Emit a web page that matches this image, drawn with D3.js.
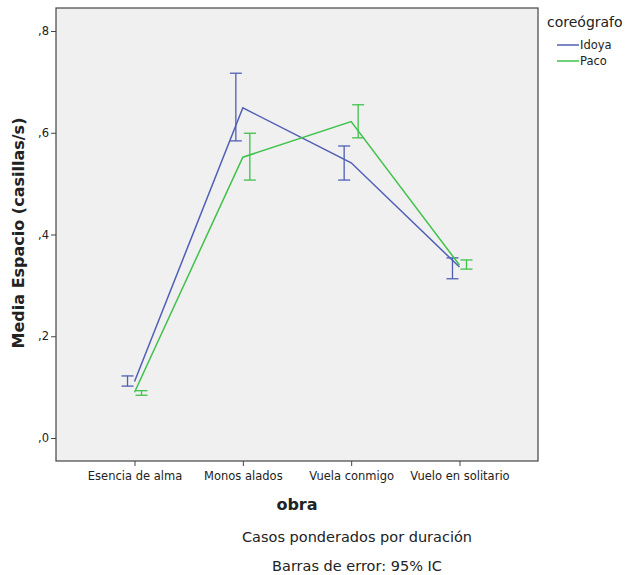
<!DOCTYPE html>
<html>
<head>
<meta charset="utf-8">
<script src="https://cdn.jsdelivr.net/npm/d3@7"></script>
<style>
  body { margin: 0; background: #fff; }
  text { font-family: "DejaVu Sans", sans-serif; fill: #222; }
</style>
</head>
<body>
<div id="chart"></div>
<script>
const obras = ['Esencia de alma', 'Monos alados', 'Vuela conmigo', 'Vuelo en solitario'];
const coreografos = ['Idoya', 'Paco'];
const idoyaMean = [0.111, 0.649, 0.541, 0.336];
const idoyaLow = [0.102, 0.584, 0.507, 0.313];
const idoyaHigh = [0.122, 0.717, 0.574, 0.354];
const pacoMean = [0.090, 0.552, 0.622, 0.340];
const pacoLow = [0.084, 0.507, 0.590, 0.332];
const pacoHigh = [0.093, 0.599, 0.655, 0.350];
const yTicks = [0, 0.2, 0.4, 0.6, 0.8];
const colors = { Idoya: '#4f5fb5', Paco: '#3fc24a' };

const width = 628, height = 575;
const plot = { left: 56, top: 8, right: 538, bottom: 461 };

const svg = d3.select('#chart').append('svg')
  .attr('width', width)
  .attr('height', height);

// plot background
svg.append('rect')
  .attr('x', plot.left).attr('y', plot.top)
  .attr('width', plot.right - plot.left).attr('height', plot.bottom - plot.top)
  .attr('fill', '#f0f0f0')
  .attr('stroke', '#444').attr('stroke-width', 1.2);

const x = d3.scalePoint()
  .domain(obras)
  .range([plot.left, plot.right])
  .padding(0.725);

const y = d3.scaleLinear()
  .domain([0, 0.8])
  .range([438, 31]);

// Y axis
const yAxis = svg.append('g')
  .attr('transform', `translate(${plot.left},0)`)
  .call(d3.axisLeft(y).tickValues(yTicks).tickSize(5)
    .tickFormat(d => d3.format('.1f')(d).replace('0.', ',')));
yAxis.select('.domain').remove();
yAxis.selectAll('line').attr('stroke', '#444');
yAxis.selectAll('text').attr('font-size', 11.5).attr('fill', '#222').attr('dx', '1');

// X axis
const xAxis = svg.append('g')
  .attr('transform', `translate(0,${plot.bottom})`)
  .call(d3.axisBottom(x).tickSize(5).tickPadding(6));
xAxis.select('.domain').remove();
xAxis.selectAll('line').attr('stroke', '#444');
xAxis.selectAll('text').attr('font-size', 11.5).attr('fill', '#222');

// axis titles
svg.append('text')
  .attr('transform', 'rotate(-90)')
  .attr('x', -233).attr('y', 24)
  .attr('text-anchor', 'middle')
  .attr('font-size', 16).attr('font-weight', 'bold')
  .text('Media Espacio (casillas/s)');

svg.append('text')
  .attr('x', 297).attr('y', 510)
  .attr('text-anchor', 'middle')
  .attr('font-size', 16).attr('font-weight', 'bold')
  .text('obra');

svg.append('text')
  .attr('x', 357).attr('y', 542)
  .attr('text-anchor', 'middle')
  .attr('font-size', 14.5)
  .text('Casos ponderados por duración');

svg.append('text')
  .attr('x', 357).attr('y', 571)
  .attr('text-anchor', 'middle')
  .attr('font-size', 14.5)
  .text('Barras de error: 95% IC');

// series
const series = [
  { name: 'Idoya', mean: idoyaMean, low: idoyaLow, high: idoyaHigh, dodge: -7 },
  { name: 'Paco', mean: pacoMean, low: pacoLow, high: pacoHigh, dodge: 7 }
];

const line = d3.line()
  .x(d => x(d.obra))
  .y(d => y(d.v));

series.forEach(s => {
  const pts = obras.map((o, i) => ({ obra: o, v: s.mean[i], lo: s.low[i], hi: s.high[i] }));
  const col = colors[s.name];

  svg.append('path')
    .datum(pts)
    .attr('fill', 'none')
    .attr('stroke', col)
    .attr('stroke-width', 1.5)
    .attr('d', line);

  const eb = svg.append('g').attr('stroke', col).attr('stroke-width', 1.3);
  pts.forEach(p => {
    const cx = x(p.obra) + s.dodge;
    eb.append('line')
      .attr('x1', cx).attr('x2', cx)
      .attr('y1', y(p.lo)).attr('y2', y(p.hi));
    eb.append('line')
      .attr('x1', cx - 6).attr('x2', cx + 6)
      .attr('y1', y(p.lo)).attr('y2', y(p.lo));
    eb.append('line')
      .attr('x1', cx - 6).attr('x2', cx + 6)
      .attr('y1', y(p.hi)).attr('y2', y(p.hi));
  });
});

// legend
svg.append('text')
  .attr('x', 547).attr('y', 27)
  .attr('font-size', 14)
  .text('coreógrafo');

coreografos.forEach((c, i) => {
  const ly = 45 + i * 16;
  svg.append('line')
    .attr('x1', 557).attr('x2', 579)
    .attr('y1', ly).attr('y2', ly)
    .attr('stroke', colors[c]).attr('stroke-width', 1.5);
  svg.append('text')
    .attr('x', 580).attr('y', ly + 4)
    .attr('font-size', 11.5)
    .text(c);
});
</script>
</body>
</html>
